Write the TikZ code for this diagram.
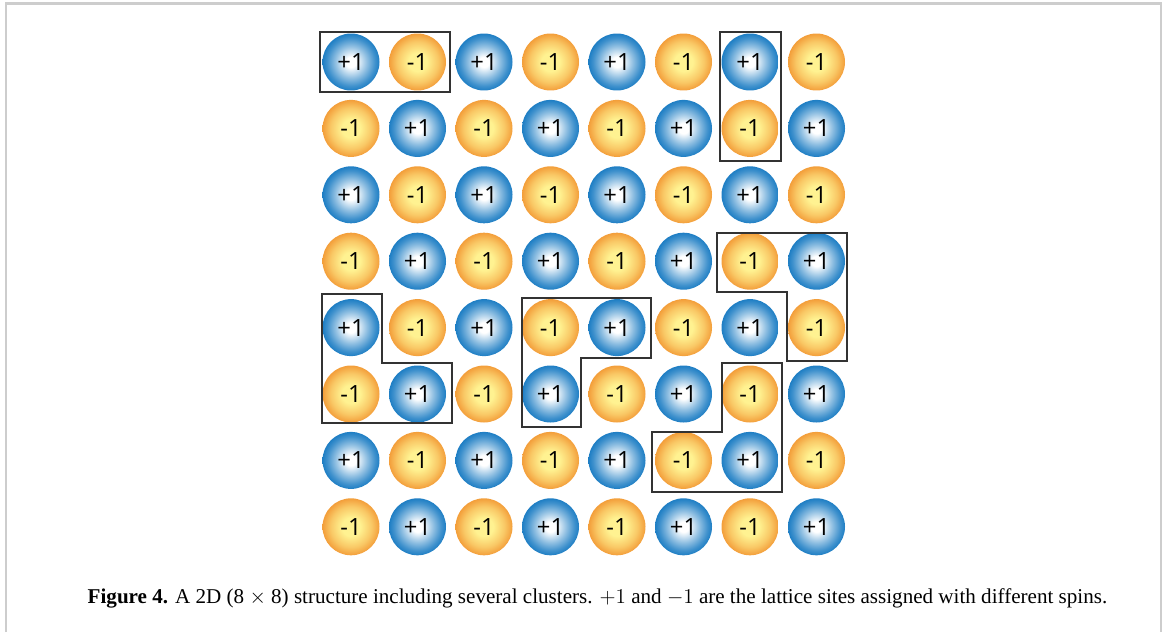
\documentclass[tikz,border=0pt]{standalone}
\usepackage{fontspec}
\setmainfont{Liberation Serif}
\newfontfamily\spinfont{Open Sans}
\usepackage{tikz}
\usetikzlibrary{calc}
\definecolor{spinblue}{RGB}{30,126,196}
\definecolor{spinorange}{RGB}{243,158,58}
\definecolor{spinyellow}{RGB}{255,242,145}
\definecolor{framegray}{RGB}{205,205,205}
\pgfdeclareradialshading{upshade}{\pgfpoint{0bp}{0bp}}{color(0bp)=(white); color(4.5bp)=(white); color(14bp)=(spinblue!50); color(21bp)=(spinblue!85); color(25bp)=(spinblue); color(50bp)=(spinblue)}
\pgfdeclareradialshading{downshade}{\pgfpoint{0bp}{0bp}}{color(0bp)=(spinyellow); color(8bp)=(spinyellow); color(18bp)=(spinorange!50!spinyellow); color(25bp)=(spinorange); color(50bp)=(spinorange)}
\tikzset{
  spin/.style={circle,minimum size=1.14cm,inner sep=0pt,font=\spinfont\fontsize{13.5}{15}\selectfont},
  upspin/.style={spin,shading=upshade},
  downspin/.style={spin,shading=downshade},
  cluster/.style={draw=black!80,line width=1pt},
  frameline/.style={draw=framegray,line width=1.2pt}
}
\begin{document}
\begin{tikzpicture}[x=0.02cm,y=-0.02cm]
  \useasboundingbox (0,0) rectangle (1165,632);
  \draw[frameline] (6,632) |- (1161,3.5) -- (1161,632);
  % lattice sites
  \foreach \r in {0,...,7}{
    \foreach \c in {0,...,7}{
      \pgfmathtruncatemacro{\parity}{mod(\r+\c,2)}
      \ifnum\parity=0
        \node[upspin] (s-\r-\c) at ({351+66.5*\c},{62+66.4*\r}) {+1};
      \else
        \node[downspin] (s-\r-\c) at ({351+66.5*\c},{62+66.4*\r}) {-1};
      \fi
    }
  }
  % clusters
  \draw[cluster] (320,32) rectangle (450,92);
  \draw[cluster] (720,32) rectangle (781,161);
  \draw[cluster] (717,233) -- (847,233) -- (847,361) -- (787,361) -- (787,292) -- (717,292) -- cycle;
  \draw[cluster] (322,294) -- (382,294) -- (382,363) -- (452,363) -- (452,423) -- (322,423) -- cycle;
  \draw[cluster] (522,298) -- (651,298) -- (651,358) -- (581,358) -- (581,427) -- (522,427) -- cycle;
  \draw[cluster] (722,363) -- (782,363) -- (782,492) -- (652,492) -- (652,432) -- (722,432) -- cycle;
  \node[anchor=base,font=\fontsize{12}{14}\selectfont] (caption) at (597.5,603)
    {\textbf{Figure 4.} A 2D (8 $\times$ 8) structure including several clusters. $+1$ and $-1$ are the lattice sites assigned with different spins.};
\end{tikzpicture}
\end{document}
